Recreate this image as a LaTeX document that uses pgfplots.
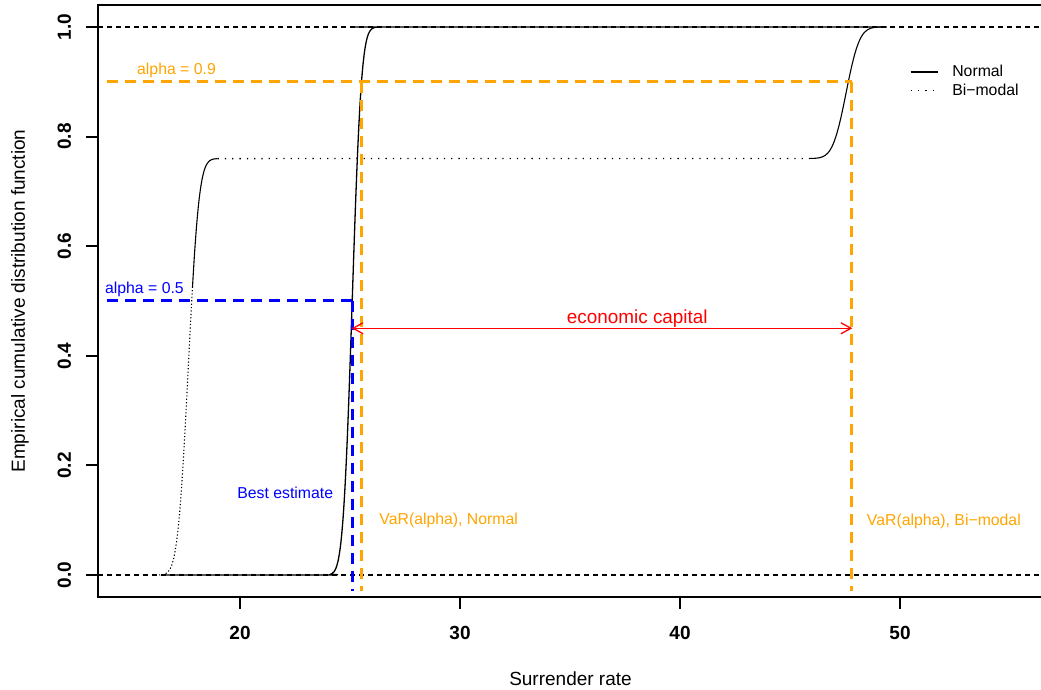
\documentclass[border=0pt]{standalone}
\usepackage{pgfplots}
\pgfplotsset{compat=1.18}
\usepackage{fontspec}
\setmainfont{Liberation Sans}
\usetikzlibrary{arrows.meta}
\definecolor{rorange}{HTML}{FFA500}
\newcommand{\fs}[1]{\fontsize{#1}{#1}\selectfont}
\begin{document}
\begin{tikzpicture}
\useasboundingbox (0,0) rectangle (1041pt,690pt);
\begin{axis}[
  at={(98pt,93pt)}, anchor=south west,
  scale only axis, width=945pt, height=592pt,
  xmin=13.545, xmax=56.5, ymin=-0.0401, ymax=1.0401,
  xtick={20,30,40,50}, xticklabels={20,30,40,50},
  ytick={0,0.2,0.4,0.6,0.8,1}, yticklabels={0.0,0.2,0.4,0.6,0.8,1.0},
  xtick pos=bottom, ytick pos=left,
  tick align=outside, major tick length=12pt,
  every tick/.style={black, line width=2pt},
  axis line style={line width=2.5pt},
  every tick label/.append style={font=\bfseries\fs{19}},
  xticklabel style={anchor=north, inner sep=0pt},
  yticklabel style={rotate=90, anchor=base, inner sep=0pt},
  xticklabel shift=17pt, yticklabel shift=15pt,
  xlabel={Surrender rate},
  ylabel={Empirical cumulative distribution function},
  every axis x label/.style={at={(axis description cs:0.5,0)}, anchor=base, yshift=-88.7pt, font=\fs{19}, inner sep=0pt},
  every axis y label/.style={at={(axis description cs:-0.0773,0.5)}, rotate=90, anchor=base, font=\fs{19}, inner sep=0pt},
  legend style={draw=none, fill=none, at={(axis cs:50.4545,0.9303)}, anchor=north west, inner sep=0pt, outer sep=0pt, font=\fs{15.8}, row sep=5.8pt, column sep=14pt, nodes={inner sep=0pt, anchor=base west}},
  legend image code/.code={\draw[#1] (0pt,4.7pt) -- (27pt,4.7pt);},
  legend cell align=left,
]
% reference lines
\addplot[forget plot, black, line width=1.1pt, dash pattern=on 5pt off 4pt] coordinates {(13.545,0) (56.5,0)};
\addplot[forget plot, black, line width=1.1pt, dash pattern=on 5pt off 4pt] coordinates {(13.545,1) (56.5,1)};

% Normal
\addplot[black, line width=1.3pt, smooth] coordinates {
(16.5,0) (23.945,0.0002) (24.11,0.0013) (24.1925,0.0030) (24.275,0.0062) (24.3575,0.0122) (24.44,0.0228) (24.5225,0.0401) (24.605,0.0668) (24.6875,0.1056) (24.77,0.1587) (24.8525,0.2266) (24.935,0.3085) (25.0175,0.4013) (25.1,0.5) (25.1825,0.5987) (25.265,0.6915) (25.3475,0.7734) (25.43,0.8413) (25.5125,0.8944) (25.595,0.9332) (25.6775,0.9599) (25.76,0.9772) (25.8425,0.9878) (25.925,0.9938) (26.0075,0.9970) (26.09,0.9987) (26.255,0.9998) (26.5,1) (49.4,1)};
\addlegendentry{Normal}

% Bi-modal flat part
\addplot[black, line width=1.3pt, dash pattern=on 1.3pt off 6pt] coordinates {(18.98,0.7598) (45.87,0.76005)};
\addlegendentry{Bi−modal}
% Bi-modal left steep part
\addplot[forget plot, black, line width=1.1pt, dash pattern=on 1.2pt off 2.2pt, smooth] coordinates {
(16.32,0.0002) (16.51,0.0010) (16.605,0.0023) (16.70,0.0047) (16.795,0.0093) (16.89,0.0173) (16.985,0.0305) (17.08,0.0508) (17.175,0.0803) (17.27,0.1206) (17.365,0.1722) (17.46,0.2345) (17.555,0.3050) (17.65,0.38) (17.745,0.4550) (17.84,0.5255)};
\addplot[forget plot, black, line width=1.1pt, smooth] coordinates {
(17.84,0.5255) (17.935,0.5878) (18.03,0.6394) (18.125,0.6797) (18.22,0.7092) (18.315,0.7295) (18.41,0.7427) (18.505,0.7507) (18.60,0.7553) (18.695,0.7577) (18.79,0.7590) (18.98,0.7598)};
% Bi-modal right steep part
\addplot[forget plot, black, line width=1.1pt, smooth] coordinates {
(45.87,0.76005) (46.11,0.7603) (46.23,0.7607) (46.35,0.7615) (46.47,0.7629) (46.59,0.7655) (46.71,0.7696) (46.83,0.7760) (46.95,0.7853) (47.07,0.7981) (47.19,0.8144) (47.31,0.8340) (47.43,0.8563) (47.55,0.88) (47.67,0.9037) (47.79,0.9260) (47.91,0.9456) (48.03,0.9619) (48.15,0.9747) (48.27,0.9840) (48.39,0.9904) (48.51,0.9945) (48.63,0.9971) (48.75,0.9985) (48.87,0.9993) (48.99,0.9997) (49.23,1.0)};

% alpha lines
\addplot[forget plot, rorange, line width=3pt, dash pattern=on 11pt off 7pt] coordinates {(13.95,0.9) (47.8,0.9)};
\addplot[forget plot, rorange, line width=3pt, dash pattern=on 11pt off 7pt] coordinates {(25.5,0.9) (25.5,-0.03)};
\addplot[forget plot, rorange, line width=3pt, dash pattern=on 11pt off 7pt] coordinates {(47.8,0.9) (47.8,-0.03)};
\addplot[forget plot, blue, line width=3pt, dash pattern=on 11pt off 7pt] coordinates {(13.95,0.5) (25.1,0.5)};
\addplot[forget plot, blue, line width=3pt, dash pattern=on 11pt off 7pt] coordinates {(25.1,0.5) (25.1,-0.03)};

% economic capital arrow
\addplot[forget plot, red, line width=1.3pt, {Straight Barb[length=10pt,width=11pt]}-{Straight Barb[length=10pt,width=11pt]}] coordinates {(25.08,0.4502) (47.83,0.4502)};

\node[anchor=base west, inner sep=0pt, text=rorange, font=\fs{15.8}] at (axis cs:15.318,0.914) {alpha = 0.9};
\node[anchor=base west, inner sep=0pt, text=blue, font=\fs{15.8}] at (axis cs:13.86,0.5137) {alpha = 0.5};
\node[anchor=base east, inner sep=0pt, text=blue, font=\fs{15.8}] at (axis cs:24.24,0.14) {Best estimate};
\node[anchor=base west, inner sep=0pt, text=rorange, font=\fs{15.8}] at (axis cs:26.33,0.093) {VaR(alpha), Normal};
\node[anchor=base west, inner sep=0pt, text=rorange, font=\fs{15.8}] at (axis cs:48.49,0.091) {VaR(alpha), Bi−modal};
\node[anchor=base west, inner sep=0pt, text=red, font=\fs{18.9}] at (axis cs:34.85,0.4593) {economic capital};
\end{axis}
\end{tikzpicture}
\end{document}
